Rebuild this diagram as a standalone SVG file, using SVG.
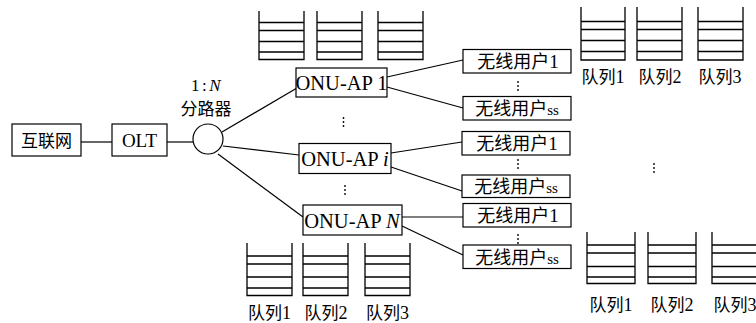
<svg xmlns="http://www.w3.org/2000/svg" width="756" height="323" viewBox="0 0 756 323">
<style>
.box{fill:#fff;stroke:#000;stroke-width:1.2}
.ln{stroke:#000;stroke-width:1.2;fill:none}
.q{stroke:#000;stroke-width:1.3;fill:none}
.t{font-family:"Liberation Serif","Noto Sans CJK SC",serif;fill:#000;text-anchor:middle}
.cjk{font-family:"Noto Sans CJK SC","Liberation Serif",serif;fill:#000;text-anchor:middle}
.dot{fill:#000}
</style>
<defs>
<g id="vdots"><circle cx="0" cy="0" r="0.9"/><circle cx="0" cy="4" r="0.9"/><circle cx="0" cy="8" r="0.9"/></g>
</defs>
<g id="connectors">
<line class="ln" x1="81" y1="142" x2="112" y2="142"/>
<line class="ln" x1="167" y1="142" x2="193" y2="142"/>
<line class="ln" x1="222" y1="132" x2="297" y2="88"/>
<line class="ln" x1="223" y1="146" x2="299" y2="155"/>
<line class="ln" x1="218" y1="154" x2="303" y2="217"/>
<line class="ln" x1="387" y1="77" x2="463" y2="60"/>
<line class="ln" x1="387" y1="87" x2="463" y2="108"/>
<line class="ln" x1="391" y1="153" x2="462" y2="142"/>
<line class="ln" x1="391" y1="167" x2="462" y2="191"/>
<line class="ln" x1="402" y1="217" x2="463" y2="217"/>
<line class="ln" x1="402" y1="226" x2="463" y2="255"/>
</g>
<g id="internet"><rect class="box" x="12" y="124" width="69" height="32"/><text class="cjk" x="46.5" y="146.5" font-size="17">互联网</text></g>
<g id="olt"><rect class="box" x="112" y="124" width="55" height="32"/><text class="t" x="139.5" y="147" font-size="19">OLT</text></g>
<g id="splitter"><circle class="box" cx="208" cy="139" r="15"/>
<text class="t" x="207" y="91" font-size="17" letter-spacing="2.5">1:<tspan font-style="italic">N</tspan></text>
<text class="cjk" x="206" y="115" font-size="17">分路器</text></g>
<g id="onu1"><rect class="box" x="296" y="68" width="91" height="29"/><text class="t" x="341.5" y="89.5" font-size="20.5">ONU-AP 1</text></g>
<g id="onui"><rect class="box" x="299" y="143.5" width="92" height="30"/><text class="t" x="345" y="165.5" font-size="20.5">ONU-AP <tspan font-style="italic">i</tspan></text></g>
<g id="onuN"><rect class="box" x="303" y="205" width="99" height="30"/><text class="t" x="352" y="227.5" font-size="20.5">ONU-AP <tspan font-style="italic">N</tspan></text></g>
<g id="u1"><rect class="box" x="463" y="49.5" width="108" height="23.5"/><text class="cjk" x="518" y="68" font-size="18">无线用户<tspan font-family="Liberation Serif" font-size="19">1</tspan></text></g>
<g id="u2"><rect class="box" x="463" y="96.5" width="108" height="23.5"/><text class="cjk" x="517" y="115" font-size="18">无线用户<tspan font-family="Liberation Serif" font-size="15">ss</tspan></text></g>
<g id="u3"><rect class="box" x="462" y="131.5" width="108" height="23.5"/><text class="cjk" x="517" y="150" font-size="18">无线用户<tspan font-family="Liberation Serif" font-size="19">1</tspan></text></g>
<g id="u4"><rect class="box" x="462" y="175" width="108" height="22.5"/><text class="cjk" x="516" y="193" font-size="18">无线用户<tspan font-family="Liberation Serif" font-size="15">ss</tspan></text></g>
<g id="u5"><rect class="box" x="463" y="203.5" width="108" height="23.5"/><text class="cjk" x="518" y="222" font-size="18">无线用户<tspan font-family="Liberation Serif" font-size="19">1</tspan></text></g>
<g id="u6"><rect class="box" x="463" y="245" width="108" height="23.5"/><text class="cjk" x="517" y="264" font-size="18">无线用户<tspan font-family="Liberation Serif" font-size="15">ss</tspan></text></g>
<g id="dots" class="dot">
<use href="#vdots" x="343.5" y="118"/>
<use href="#vdots" x="345" y="186"/>
<use href="#vdots" x="518" y="82"/>
<use href="#vdots" x="518" y="160"/>
<use href="#vdots" x="518" y="235"/>
<use href="#vdots" x="654" y="164"/>
</g>
<g id="queues-top-mid">
<path class="q" d="M259 11V59.5H304V11M259 22.5H304M259 30.5H304M259 41.5H304M259 52H304"/>
<path class="q" d="M317 11V59.5H362V11M317 22.5H362M317 30.5H362M317 41.5H362M317 52H362"/>
<path class="q" d="M378 11V59.5H423V11M378 22.5H423M378 30.5H423M378 41.5H423M378 52H423"/>
</g>
<g id="queues-top-right">
<path class="q" d="M581 7V60H625V7M581 21.5H625M581 29.5H625M581 40.5H625M581 51.5H625"/>
<path class="q" d="M637 7V60H682V7M637 21.5H682M637 29.5H682M637 40.5H682M637 51.5H682"/>
<path class="q" d="M698 7V60H743V7M698 21.5H743M698 29.5H743M698 40.5H743M698 51.5H743"/>
<text class="cjk" x="603" y="83" font-size="17">队列<tspan font-family="Liberation Serif" font-size="18">1</tspan></text>
<text class="cjk" x="660" y="83" font-size="17">队列<tspan font-family="Liberation Serif" font-size="18">2</tspan></text>
<text class="cjk" x="720" y="83" font-size="17">队列<tspan font-family="Liberation Serif" font-size="18">3</tspan></text>
</g>
<g id="queues-bottom-mid">
<path class="q" d="M247 243V295.5H292V243M247 256H292M247 264H292M247 277H292M247 288H292"/>
<path class="q" d="M303 243V295.5H348V243M303 256H348M303 264H348M303 277H348M303 288H348"/>
<path class="q" d="M365 243V295.5H410V243M365 256H410M365 264H410M365 277H410M365 288H410"/>
<text class="cjk" x="269.5" y="319" font-size="17">队列<tspan font-family="Liberation Serif" font-size="18">1</tspan></text>
<text class="cjk" x="326" y="319" font-size="17">队列<tspan font-family="Liberation Serif" font-size="18">2</tspan></text>
<text class="cjk" x="387.5" y="319" font-size="17">队列<tspan font-family="Liberation Serif" font-size="18">3</tspan></text>
</g>
<g id="queues-bottom-right">
<path class="q" d="M587 232V283.5H635V232M587 245H635M587 253H635M587 266.5H635M587 277H635"/>
<path class="q" d="M648 232V283.5H696V232M648 245H696M648 253H696M648 266.5H696M648 277H696"/>
<path class="q" d="M712 232V283.5H760V232M712 245H760M712 253H760M712 266.5H760M712 277H760"/>
<text class="cjk" x="611" y="311" font-size="17">队列<tspan font-family="Liberation Serif" font-size="18">1</tspan></text>
<text class="cjk" x="672" y="311" font-size="17">队列<tspan font-family="Liberation Serif" font-size="18">2</tspan></text>
<text class="cjk" x="735" y="311" font-size="17">队列<tspan font-family="Liberation Serif" font-size="18">3</tspan></text>
</g>
</svg>
